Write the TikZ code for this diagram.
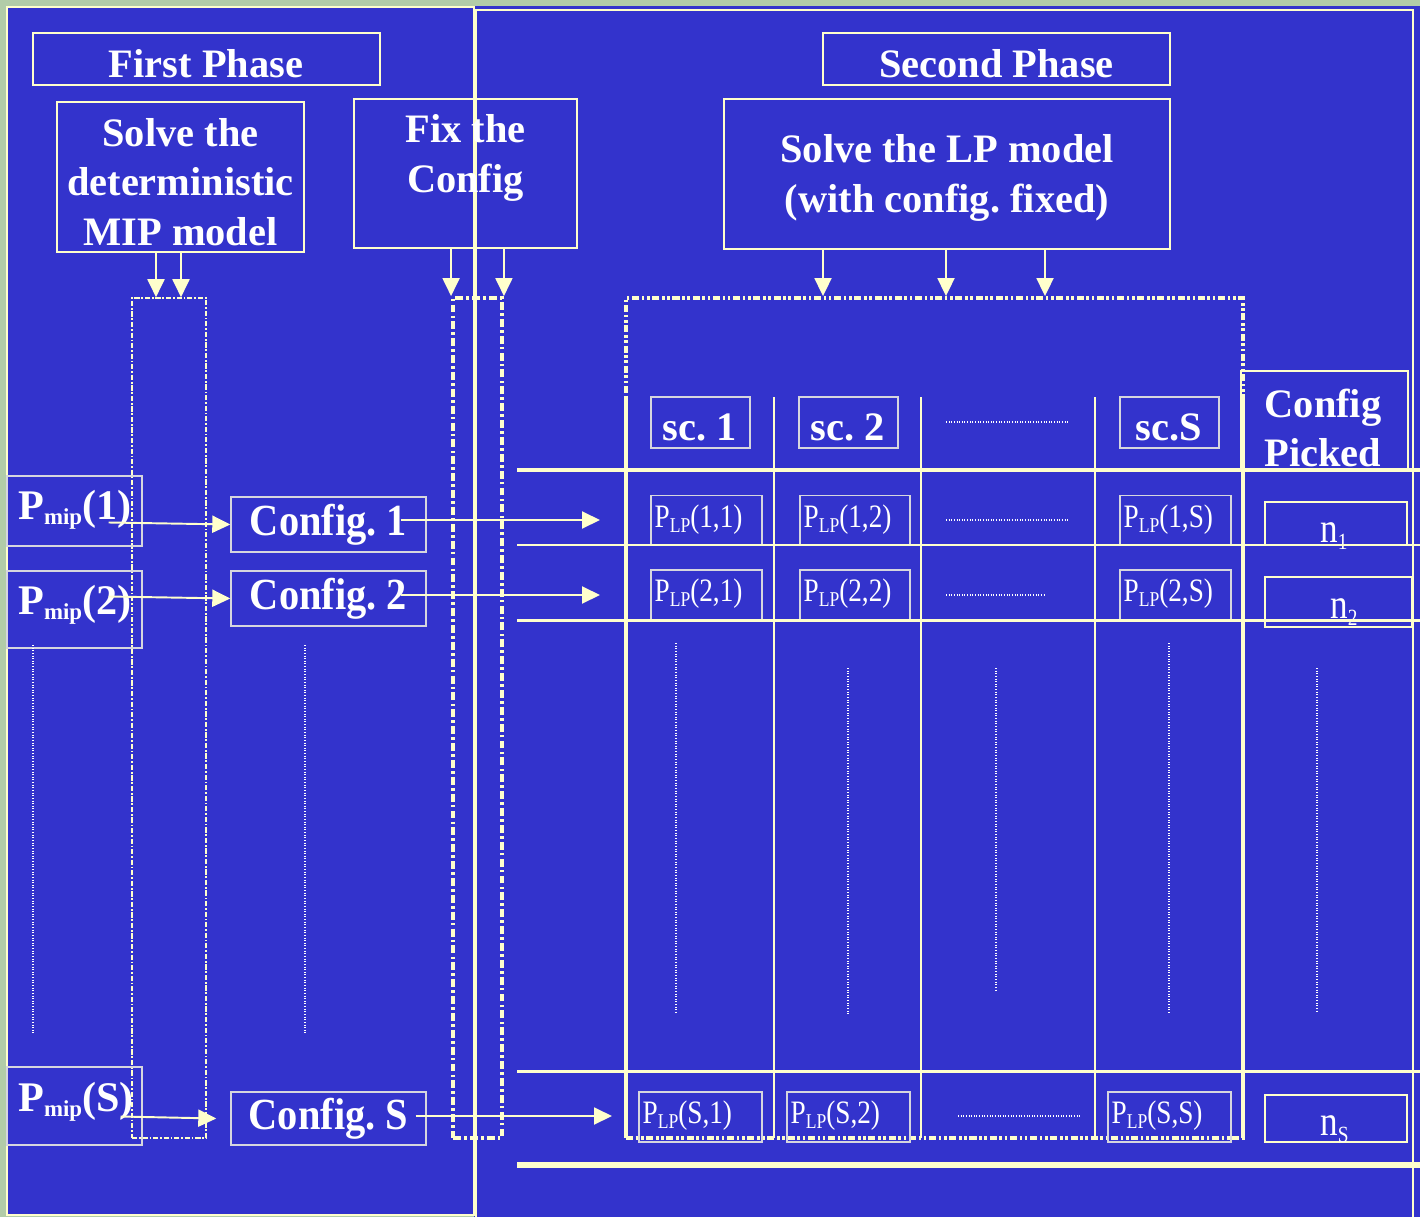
\documentclass[tikz,border=0pt]{standalone}
\usepackage{fontspec}
\setmainfont{Liberation Serif}
\usepackage{graphicx}
\usepackage{tikz}
\usetikzlibrary{arrows.meta,positioning,calc}
\definecolor{slideblue}{RGB}{51,51,204}
\definecolor{slidegreen}{RGB}{178,204,168}
\definecolor{lineyellow}{RGB}{255,255,204}
\definecolor{thinline}{RGB}{214,214,222}
\newcommand{\headfont}{\fontsize{23}{28}\selectfont\bfseries}
\newcommand{\cellfont}{\fontsize{15.5}{18}\selectfont}
\newcommand{\tall}[1]{\scalebox{1}[1.2]{#1}}
\newcommand{\Pmip}[1]{P\raisebox{-0.3ex}{\fontsize{13}{13}\selectfont mip}(#1)}
\newcommand{\Plp}[1]{\tall{P\raisebox{-0.35ex}{\fontsize{10}{10}\selectfont LP}(#1)}}
\newcommand{\nsub}[1]{\tall{n\raisebox{-0.4ex}{\fontsize{11}{11}\selectfont #1}}}
\frenchspacing

\begin{document}
\begin{tikzpicture}[x=0.02cm,y=-0.02cm,>=Latex,
  wh/.style 2 args={minimum width=#1*0.02cm,minimum height=#2*0.02cm}]
\tikzstyle{bigbox}=[draw=lineyellow,line width=1.5pt,inner sep=0pt]
\tikzstyle{thinbox}=[draw=thinline,line width=0.8pt,inner sep=0pt]
\tikzstyle{nbox}=[draw=lineyellow,line width=1.1pt,inner sep=0pt]
\tikzstyle{headtext}=[text=white,font=\headfont,align=center,inner sep=0pt]
\tikzstyle{celltext}=[text=white,font=\cellfont,inner sep=0pt,anchor=base west]
\tikzstyle{arr}=[lineyellow,line width=1.1pt,-{Triangle[length=0.36cm,width=0.34cm]}]
\tikzstyle{dotline}=[white,line width=0.6pt,dash pattern=on 0.5pt off 1pt]
\tikzstyle{thindash}=[draw=lineyellow,line width=0.9pt,dash pattern=on 3pt off 1pt on 1pt off 1pt,inner sep=0pt]
\tikzstyle{thickdash}=[draw=lineyellow,line width=2.2pt,dash pattern=on 4.5pt off 1.8pt on 1.5pt off 1.8pt,inner sep=0pt]
\tikzstyle{griddash}=[draw=lineyellow,line width=2.2pt,dash pattern=on 4pt off 1.5pt on 1.5pt off 1.5pt on 1.5pt off 1.5pt,inner sep=0pt]
\useasboundingbox (0,0) rectangle (1420,1217);
% panels
\fill[slidegreen] (0,0) rectangle (1420,1217);
\fill[slideblue] (474,6) rectangle (1420,1217);
\draw[lineyellow,line width=1.6pt] (476,1217) -- (476,10) -- (1413,10) -- (1413,1217);
\draw[lineyellow,line width=1.1pt,fill=slideblue] (7,7) rectangle (474,1215);
% top boxes
\node[bigbox,wh={347}{52}] (first) at (206.5,59) {};
\node[headtext] (firstt) at (206,64) {First Phase};
\node[bigbox,wh={347}{52}] (second) at (996.5,59) {};
\node[headtext] (secondt) at (996.5,64) {Second Phase};
\node[bigbox,wh={247}{150}] (mip) at (180.5,177) {};
\node[headtext] (mipt) at (180.5,182) {Solve the\\deterministic\\MIP model};
\node[bigbox,wh={223}{149}] (fix) at (465.5,173.5) {};
\node[headtext] (fixt) at (465.5,158) {Fix the\\Config};
\node[bigbox,wh={446}{150}] (lp) at (947,174) {};
\node[headtext] (lpt) at (947,178) {Solve the LP model\\(with config. fixed)};
% dashed columns
\node[thindash,wh={74}{840}] (colmip) at (169,718) {};
\node[thickdash,wh={49}{840}] (colfix) at (477.5,718) {};
\node[griddash,wh={617}{840}] (grid) at (934.5,718) {};
\foreach \dx in {-24.5,0.5}{
  \coordinate (a) at ($(mip.south)+(\dx,0)$);
  \draw[arr] (a) -- (a |- colmip.north);}
\draw[arr] (fix.south -| colfix.west) -- (colfix.north west);
\draw[arr] (fix.south -| colfix.east) -- (colfix.north east);
\foreach \dx in {-124,-1,98}{
  \coordinate (a) at ($(lp.south)+(\dx,0)$);
  \draw[arr] (a) -- (a |- grid.north);}
% first phase rows
\foreach \r/\yb/\hb/\yt/\yc/\hc/\sx/\ex/\cx/\tx/\ty in {1/511/70/519/524.5/55/-34/0/-26/600/520,2/609.5/77/614/598.5/55/-34/0/-26/600/595,S/1106/78/1111/1118.5/53/-22/-14/-11/612/1116}{
  \node[thinbox,wh={135}{\hb}] (pm\r) at (74.5,\yb) {};
  \node[headtext,anchor=base west,font=\fontsize{24}{28}\selectfont\bfseries] (pm\r t) at (18,\yt) {\Pmip{\r}};
  \node[thinbox,wh={195}{\hc}] (cf\r) at (328.5,\yc) {};
  \node[headtext] (cf\r t) at (cf\r) {\scalebox{1}[1.1]{Config. \r}};
  \draw[arr] ($(pm\r.east |- cf\r.west)+(\sx,-2)$) -- ($(cf\r.west)+(\ex,0)$);
  \coordinate (in\r) at (\tx,\ty);
  \coordinate (out\r) at ($(cf\r.east)+(\cx,0)$);
  \draw[arr] (out\r |- in\r) -- (in\r);}
\foreach \x/\ya/\yb in {33/645/1035,305/645/1035}
  \draw[dotline] (\x,\ya) -- (\x,\yb);
% table head
\foreach \c/\x/\lab in {1/700.5/sc. 1,2/848.5/sc. 2,S/1169.5/sc.S}{
  \node[thinbox,wh={99}{51}] (sc\c) at (\x,422.5) {};
  \node[headtext] (sc\c t) at (\x-1,427) {\lab};}
\node[bigbox,wh={167}{99}] (pick) at (1324.5,420.5) {};
\node[headtext] (pickt) at (1323,428) {Config\\Picked};
% table cells
\foreach \i/\y in {1/520.5,2/595}{
  \foreach \j/\x/\w in {1/706.5/111,2/855/110,S/1175.5/111}{
    \node[thinbox,wh={\w}{50}] (lp\i\j) at (\x,\y) {};
    \node[celltext] (lp\i\j t) at ($(lp\i\j.south west)+(4,-19)$) {\Plp{\i,\j}};}}
\foreach \j/\x in {1/700.5,2/848.5,S/1169.5}{
  \node[thinbox,wh={123}{50}] (lpS\j) at (\x,1117) {};
  \node[celltext] (lpS\j t) at ($(lpS\j.south west)+(4,-19)$) {\Plp{S,\j}};}
\foreach \k/\x/\y/\w/\h/\bx/\by in {1/1336/523.5/142/43/1320/542,2/1338.5/602/147/50/1330/618,S/1336/1118.5/142/47/1320/1135}{
  \node[nbox,wh={\w}{\h}] (n\k) at (\x,\y) {};
  \node[celltext,font=\fontsize{20}{22}\selectfont] (n\k t) at (\bx,\by) {\nsub{\k}};}
\foreach \xa/\xb/\y in {946/1069/422,946/1069/520,946/1046/595,958/1081/1116}
  \draw[dotline] (\xa,\y) -- (\xb,\y);
\foreach \x/\ya/\yb in {676/643/1012,848/668/1015,996/668/990,1169/643/1012,1317/668/1012}
  \draw[dotline] (\x,\ya) -- (\x,\yb);
% grid lines
\draw[lineyellow,line width=2.8pt] (517,470) -- (1420,470);
\foreach \y in {545,620,1071}
  \draw[lineyellow,line width=1.7pt] (517,\y) -- (1420,\y);
\draw[lineyellow,line width=3.4pt] (517,1165) -- (1420,1165);
\foreach \x in {626,1243}
  \draw[lineyellow,line width=2.8pt] (\x,397) -- (\x,1138);
\foreach \x in {774,921,1095}
  \draw[lineyellow,line width=1.1pt] (\x,397) -- (\x,1138);
\end{tikzpicture}
\end{document}
